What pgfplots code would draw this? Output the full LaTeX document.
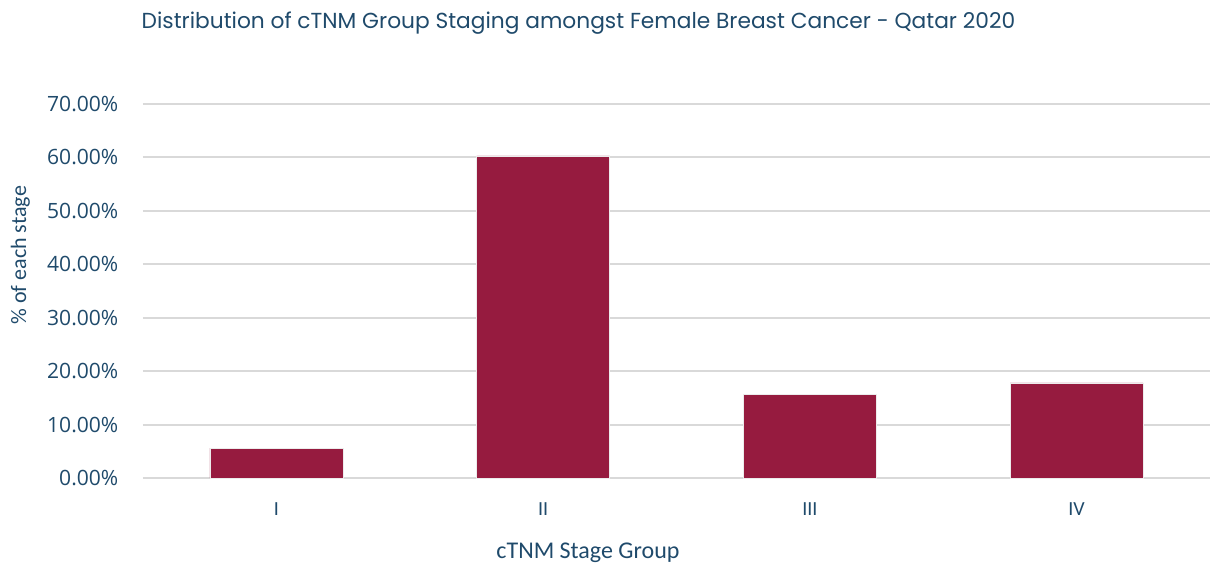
\documentclass[border=0pt]{standalone}
\usepackage{pgfplots}
\pgfplotsset{compat=1.18}
\usepackage{fontspec}
\setmainfont{Open Sans}
\newfontfamily\titlefont{Poppins}
\newfontfamily\labelfont{Carlito}
\definecolor{barred}{HTML}{961B3F}
\definecolor{navy}{HTML}{1F4A6B}
\definecolor{gridgray}{HTML}{D9D9D9}
\begin{document}
\begin{tikzpicture}[x=0.75pt,y=0.75pt]
\useasboundingbox (-143,-91) rectangle (1070,478);
\begin{axis}[
    at={(0,0)}, anchor=south west,
    scale only axis,
    width=800.25pt, height=280.5pt,
    xmin=-0.5, xmax=3.5,
    ymin=0, ymax=70,
    ytick={0,10,...,70},
    xtick={0,1,2,3},
    xticklabels={I,II,III,IV},
    axis x line*=bottom,
    axis y line*=left,
    x axis line style={gridgray, line width=1.5pt, -},
    y axis line style={draw=none},
    ymajorgrids,
    grid style={gridgray, line width=1.5pt},
    major tick length=0pt,
    yticklabel={\pgfmathprintnumber[fixed,fixed zerofill,precision=2]{\tick}\%},
    /pgf/number format/assume math mode=true,
    yticklabel style={font=\fontsize{15.8}{18}\selectfont, text=navy, xshift=-15pt},
    xticklabel style={font=\labelfont\fontsize{15}{17}\selectfont, text=navy, yshift=-15pt},
    xlabel={cTNM Stage Group},
    xlabel style={font=\labelfont\fontsize{18}{20}\selectfont, text=navy, at={(axis description cs:0.417,-0.201)}, anchor=center},
    ylabel={\% of each stage},
    ylabel style={font=\labelfont\fontsize{16.5}{18}\selectfont, text=navy, at={(axis description cs:-0.115,0.596)}, anchor=center},
    clip=false,
    ybar, bar width=99.75pt,
]
\addplot[fill=barred, draw=white!85!gray, line width=0.4pt] coordinates {
    (0,5.6) (1,60.3) (2,15.7) (3,17.8)
};
\node[font=\titlefont\fontsize{16.3}{19}\selectfont, text=navy, anchor=west]
    at (axis description cs:-0.0056,1.217) {Distribution of cTNM Group Staging amongst Female Breast Cancer - Qatar 2020};
\end{axis}
\end{tikzpicture}
\end{document}
